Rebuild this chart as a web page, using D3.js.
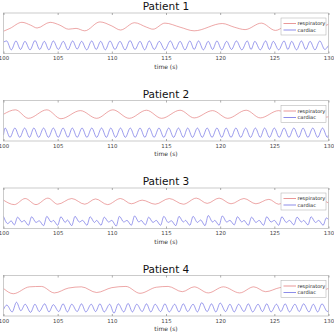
<!DOCTYPE html>
<html>
<head>
<meta charset="utf-8">
<script src="https://cdn.jsdelivr.net/npm/d3@7"></script>
<style>
  body { margin: 0; background: #fff; }
  svg text { font-family: "DejaVu Sans", sans-serif; }
</style>
</head>
<body>
<div id="chart"></div>
<script>
const titles = ["Patient 1", "Patient 2", "Patient 3", "Patient 4"];
const xTicks = [100, 105, 110, 115, 120, 125, 130];
const seriesNames = ["respiratory", "cardiac"];

// [time (s), amplitude] (peaks and troughs)
const resp1 = [[100,5.5],[100.6,6.2],[101.7,7.7],[102.5,7.0],[103.1,6.3],[104.3,7.7],[105.2,7.0],[106.0,6.0],[106.7,6.2],[107.5,5.6],[108.9,7.8],[110.0,6.8],[110.8,5.8],[112.1,7.6],[113.2,6.5],[113.8,6.0],[114.9,7.5],[116.3,6.5],[117.6,5.6],[120.2,7.4],[121.3,6.5],[122.3,5.9],[123.8,7.5],[125.1,5.7],[126.5,7.4],[128.2,5.9],[130,7.2]];
const card1 = [[100,2.8],[100.29,3.1],[100.72,0.9],[101.15,3.1],[101.57,1.0],[101.98,3.0],[102.45,0.9],[102.91,3.2],[103.34,1.0],[103.77,3.0],[104.19,0.9],[104.6,3.1],[105.06,1.0],[105.52,3.0],[105.95,0.9],[106.38,3.1],[106.8,1.1],[107.21,3.0],[107.68,0.9],[108.14,3.1],[108.56,1.0],[108.97,3.0],[109.4,0.9],[109.83,3.1],[110.29,1.0],[110.75,3.0],[111.22,0.9],[111.68,3.2],[112.14,1.0],[112.6,3.0],[113.03,0.9],[113.46,3.1],[113.92,1.0],[114.38,3.0],[114.89,0.9],[115.4,3.1],[115.85,1.0],[116.3,3.0],[116.75,0.9],[117.2,3.1],[117.6,1.0],[118.0,3.1],[118.45,0.9],[118.9,3.0],[119.3,1.0],[119.7,3.1],[120.15,0.9],[120.6,3.0],[121.05,1.0],[121.5,3.1],[122.0,0.9],[122.5,3.1],[122.85,1.0],[123.2,3.0],[123.7,0.9],[124.2,3.1],[124.55,1.0],[124.9,3.0],[125.4,0.9],[125.9,3.1],[126.25,1.0],[126.6,3.0],[127.05,0.9],[127.5,3.1],[127.9,1.0],[128.3,3.0],[128.75,0.9],[129.2,3.1],[129.65,1.0],[130,2.0]];

const resp2 = [[100,6.6],[101.1,7.7],[102.3,5.6],[104.0,7.7],[105.3,5.5],[107.1,7.5],[108.6,5.6],[110.1,7.7],[111.6,5.6],[113.2,7.6],[114.6,5.6],[116.3,7.6],[117.6,5.7],[119.3,7.5],[120.7,5.6],[122.4,7.6],[123.7,5.7],[125.4,7.5],[126.7,5.7],[128.5,7.5],[129.8,5.9],[130,6.0]];
const card2 = [[100,1.5],[100.15,3.2],[100.6,0.9],[101.05,3.2],[101.5,0.9],[101.95,3.2],[102.4,0.9],[102.8,3.2],[103.25,0.9],[103.7,3.2],[104.15,0.9],[104.6,3.2],[105.05,0.9],[105.5,3.2],[105.95,0.9],[106.35,3.2],[106.8,0.9],[107.25,3.2],[107.7,0.9],[108.15,3.2],[108.6,0.9],[109.05,3.2],[109.5,0.9],[109.9,3.2],[110.35,0.9],[110.8,3.2],[111.25,0.9],[111.7,3.2],[112.15,0.9],[112.6,3.2],[113.05,0.9],[113.45,3.2],[113.9,0.9],[114.35,3.2],[114.8,0.9],[115.25,3.2],[115.7,0.9],[116.15,3.2],[116.6,0.9],[117.0,3.2],[117.45,0.9],[117.9,3.2],[118.35,0.9],[118.8,3.2],[119.25,0.9],[119.7,3.2],[120.15,0.9],[120.55,3.2],[121.0,0.9],[121.45,3.2],[121.9,0.9],[122.35,3.2],[122.8,0.9],[123.25,3.2],[123.7,0.9],[124.1,3.2],[124.55,0.9],[125.0,3.2],[125.45,0.9],[125.9,3.2],[126.35,0.9],[126.8,3.2],[127.25,0.9],[127.65,3.2],[128.1,0.9],[128.55,3.2],[129.0,0.9],[129.45,3.2],[129.9,0.9],[130,1.5]];

const resp3 = [[100,7.0],[101.0,5.9],[102.0,7.4],[103.0,5.9],[104.1,7.5],[105.0,6.0],[106.3,7.4],[107.5,6.0],[108.5,7.3],[109.6,5.9],[110.8,7.4],[111.8,6.1],[112.8,7.0],[114.0,6.0],[115.3,7.4],[116.6,6.0],[117.8,7.5],[118.8,6.2],[119.9,7.5],[121.0,6.1],[122.2,7.4],[123.3,6.1],[124.5,7.2],[125.4,6.0],[126.6,7.4],[128.0,6.0],[129.0,7.3],[130,6.3]];
const card3 = [[100,3.0],[100.4,1.2],[100.7,1.9],[101.0,0.9],[101.3,2.8],[101.7,1.6],[101.9,2.0],[102.3,0.8],[102.6,2.9],[103.0,1.5],[103.3,1.9],[103.7,0.7],[104.0,3.0],[104.4,1.6],[104.6,2.0],[105.0,0.8],[105.3,2.9],[105.7,1.5],[105.9,2.1],[106.3,0.7],[106.6,3.0],[107.0,1.6],[107.3,2.0],[107.7,0.8],[108.0,2.9],[108.4,1.5],[108.6,2.0],[109.0,0.8],[109.3,2.8],[109.7,1.6],[110.0,2.0],[110.4,0.6],[110.7,3.0],[111.1,1.6],[111.4,2.0],[111.8,0.8],[112.1,3.1],[112.5,1.6],[112.7,2.0],[113.1,0.9],[113.4,2.8],[113.8,1.5],[114.1,2.0],[114.5,0.8],[114.8,3.0],[115.2,1.5],[115.5,1.9],[115.9,0.7],[116.2,3.0],[116.6,1.6],[116.8,2.0],[117.2,0.8],[117.5,3.0],[117.9,1.5],[118.2,2.1],[118.6,0.7],[118.9,3.2],[119.3,1.6],[119.5,2.0],[119.9,0.8],[120.2,3.1],[120.6,1.6],[120.9,2.0],[121.3,0.9],[121.6,2.9],[122.0,1.6],[122.2,2.0],[122.6,0.8],[122.9,2.8],[123.3,1.5],[123.6,2.0],[124.0,0.8],[124.3,2.9],[124.7,1.6],[125.0,2.0],[125.4,0.8],[125.7,2.9],[126.1,1.5],[126.4,2.0],[126.8,0.9],[127.1,2.8],[127.5,1.6],[127.7,2.0],[128.1,0.9],[128.4,2.9],[128.8,1.5],[129.1,2.0],[129.5,0.8],[129.8,2.6],[130,2.2]];

const resp4 = [[100,6.8],[100.9,5.5],[102.4,7.2],[103.5,7.3],[104.7,5.7],[106.0,6.9],[107.2,7.2],[108.6,5.8],[110.0,7.0],[111.3,7.3],[112.6,5.6],[114.1,7.1],[115.2,7.3],[116.5,6.0],[117.6,7.2],[118.9,5.7],[120.3,7.2],[121.8,5.7],[123.1,7.2],[124.2,6.0],[125.5,7.0],[126.8,7.3],[128.2,5.7],[130,6.8]];
const card4 = [[100,1.6],[100.3,2.7],[100.8,1.0],[101.2,3.4],[101.6,1.3],[102.0,2.9],[102.5,0.9],[102.9,2.9],[103.3,1.1],[103.8,3.0],[104.2,1.0],[104.6,2.8],[105.1,1.1],[105.5,3.0],[105.9,1.0],[106.3,2.9],[106.8,1.1],[107.2,3.0],[107.6,1.0],[108.1,2.9],[108.5,1.1],[108.9,3.0],[109.3,1.0],[109.8,2.9],[110.2,0.7],[110.6,3.0],[111.1,1.0],[111.5,3.1],[111.9,1.0],[112.3,2.9],[112.8,1.1],[113.2,3.0],[113.6,1.0],[114.0,2.9],[114.5,1.1],[114.9,3.0],[115.3,1.0],[115.8,2.9],[116.2,1.0],[116.6,3.0],[117.0,1.1],[117.5,2.9],[117.9,1.0],[118.3,3.3],[118.8,1.1],[119.2,3.0],[119.6,1.0],[120.0,3.2],[120.5,1.1],[120.9,2.9],[121.3,1.0],[121.7,2.9],[122.2,1.1],[122.6,3.0],[123.0,1.0],[123.5,2.9],[123.9,1.1],[124.3,3.0],[124.7,1.0],[125.2,2.9],[125.6,1.1],[126.0,3.0],[126.4,1.0],[126.9,2.9],[127.3,1.1],[127.7,3.0],[128.2,1.0],[128.6,2.9],[129.0,1.0],[129.4,3.0],[129.9,1.1],[130,1.4]];

const respData = [resp1, resp2, resp3, resp4];
const cardData = [card1, card2, card3, card4];

const width = 334, height = 334;
const plotLeft = 3.5, plotRight = 328.5;
const firstTop = 13, panelStep = 87.5, panelH = 40.5;
const colors = {respiratory: "#e06b6b", cardiac: "#5b5be0"};

const svg = d3.select("#chart")
  .append("svg")
    .attr("width", width)
    .attr("height", height);

const x = d3.scaleLinear()
  .domain([100, 130])
  .range([plotLeft, plotRight]);

titles.forEach((title, i) => {
  const top = firstTop + i * panelStep;
  const bottom = top + panelH;
  const y = d3.scaleLinear()
    .domain([0, 10])
    .range([bottom, top]);

  const g = svg.append("g");

  g.append("text")
    .attr("x", (plotLeft + plotRight) / 2)
    .attr("y", top - 3)
    .attr("text-anchor", "middle")
    .style("font-size", "10.5px")
    .style("fill", "#111")
    .text(title);

  g.append("clipPath")
    .attr("id", `clip${i}`)
  .append("rect")
    .attr("x", plotLeft)
    .attr("y", top)
    .attr("width", plotRight - plotLeft)
    .attr("height", panelH);

  const line = d3.line()
    .x(d => x(d[0]))
    .y(d => y(d[1]))
    .curve(d3.curveMonotoneX);

  g.append("path")
    .datum(respData[i])
    .attr("clip-path", `url(#clip${i})`)
    .attr("fill", "none")
    .attr("stroke", colors.respiratory)
    .attr("stroke-width", 0.6)
    .attr("d", line);

  g.append("path")
    .datum(cardData[i])
    .attr("clip-path", `url(#clip${i})`)
    .attr("fill", "none")
    .attr("stroke", colors.cardiac)
    .attr("stroke-width", 0.6)
    .attr("d", line);

  // box
  g.append("rect")
    .attr("x", plotLeft)
    .attr("y", top)
    .attr("width", plotRight - plotLeft)
    .attr("height", panelH)
    .attr("fill", "none")
    .attr("stroke", "#a8a8a8")
    .attr("stroke-width", 0.6);

  const xAxis = g.append("g")
    .attr("transform", `translate(0, ${bottom})`)
    .call(d3.axisBottom(x).tickValues(xTicks).tickSize(-2).tickPadding(3));
  xAxis.select(".domain").remove();
  xAxis.selectAll("line").attr("stroke", "#777").attr("stroke-width", 0.6);
  xAxis.selectAll("text")
    .style("font-family", "DejaVu Sans, sans-serif")
    .style("font-size", "5.4px")
    .attr("fill", "#444");

  const topAxis = g.append("g")
    .attr("transform", `translate(0, ${top})`)
    .call(d3.axisTop(x).tickValues(xTicks).tickSize(-2).tickFormat(""));
  topAxis.select(".domain").remove();
  topAxis.selectAll("line").attr("stroke", "#777").attr("stroke-width", 0.6);

  g.append("text")
    .attr("x", (plotLeft + plotRight) / 2)
    .attr("y", bottom + 15)
    .attr("text-anchor", "middle")
    .style("font-size", "6px")
    .style("fill", "#333")
    .text("time (s)");

  // legend
  const legend = g.append("g")
    .attr("transform", `translate(281, ${top + 5})`);
  legend.append("rect")
    .attr("width", 45)
    .attr("height", 17)
    .attr("fill", "#fff")
    .attr("stroke", "#aaa")
    .attr("stroke-width", 0.5);
  seriesNames.forEach((name, k) => {
    legend.append("line")
      .attr("x1", 2.5).attr("x2", 15)
      .attr("y1", 5.5 + k * 6.5).attr("y2", 5.5 + k * 6.5)
      .attr("stroke", colors[name])
      .attr("stroke-width", 0.7);
    legend.append("text")
      .attr("x", 16.5)
      .attr("y", 5.5 + k * 6.5)
      .attr("dy", "0.35em")
      .style("font-size", "5.1px")
      .style("fill", "#222")
      .text(name);
  });
});
</script>
</body>
</html>
